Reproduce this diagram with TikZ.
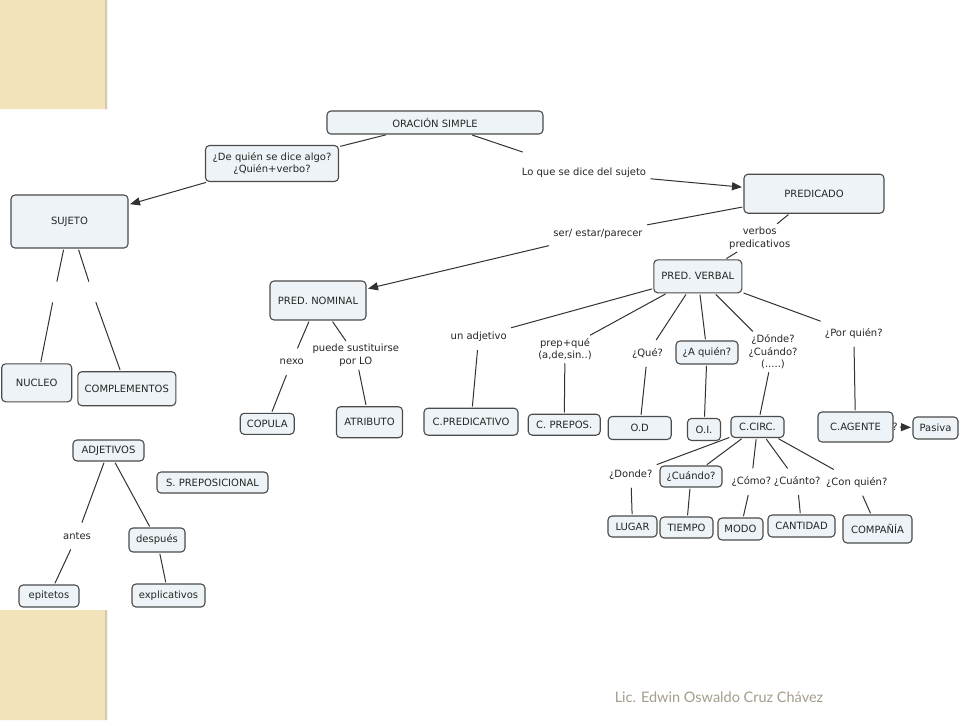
\documentclass[tikz,border=0pt]{standalone}
\usepackage{fontspec}
\setmainfont{DejaVu Sans}
\newfontfamily\firma{Lato}
\usetikzlibrary{arrows.meta}
\definecolor{caja}{RGB}{237,243,246}
\definecolor{borde}{RGB}{75,75,75}
\definecolor{linea}{RGB}{50,50,50}
\definecolor{beige}{RGB}{243,227,186}
\definecolor{gris}{RGB}{165,157,138}
\begin{document}
\begin{tikzpicture}[x=1pt,y=-1pt,font=\fontsize{10}{12.5}\selectfont,text=black!85,line join=round,line cap=round,>={Triangle[length=10pt,width=8pt]},
  concepto/.style 2 args={draw=borde,fill=caja,rounded corners=4pt,line width=1.1pt,inner sep=0pt,align=center,minimum width=#1pt,minimum height=#2pt},
  enlace/.style={inner xsep=3pt,inner ysep=2pt,minimum height=24pt,align=center},
  con/.style={draw=linea,line width=1pt,shorten <=1.5pt,shorten >=1.5pt}]
\useasboundingbox (0,0) rectangle (960,720);
\fill[white] (0,0) rectangle (960,720);
% esquinas
\fill[beige] (0,0) rectangle (107,109) (0,610) rectangle (107,720);
\fill[beige!75!gray] (105,0) rectangle (107,109) (105,610) rectangle (107,720);
% conceptos
\node[concepto={216}{23}] (orac) at (435,122.5) {ORACIÓN SIMPLE};
\node[concepto={133}{36}] (q1) at (272,163.5) {¿De quién se dice algo?\\¿Quién+verbo?};
\node[concepto={117}{53}] (suj) at (69.5,221.5) {SUJETO};
\node[concepto={140}{39}] (pred) at (814,193.7) {PREDICADO};
\node[concepto={88}{33}] (pverb) at (697.8,276.3) {PRED. VERBAL};
\node[concepto={96}{39}] (pnom) at (318,300.5) {PRED. NOMINAL};
\node[concepto={70}{38}] (nuc) at (36.7,382.8) {NUCLEO};
\node[concepto={98}{34}] (comp) at (126.8,388.7) {COMPLEMENTOS};
\node[concepto={54}{21}] (copula) at (267.2,423.8) {COPULA};
\node[concepto={66}{31}] (atrib) at (369.5,422.2) {ATRIBUTO};
\node[concepto={94}{27}] (cpredic) at (471,421.7) {C.PREDICATIVO};
\node[concepto={72}{21}] (cprep) at (564.2,424.7) {C. PREPOS.};
\node[concepto={63}{23}] (od) at (639.7,428) {O.D};
\node[concepto={62}{23}] (aq) at (707,352.5) {¿A quién?};
\node[concepto={33}{22}] (oi) at (704,429.5) {O.I.};
\node[concepto={53}{21}] (ccirc) at (757.5,427) {C.CIRC.};
\node[enlace,minimum height=0pt,inner sep=1pt] (qm) at (895,427) {?};
\node[concepto={75}{30}] (cag) at (855.5,427) {C.AGENTE};
\node[concepto={45}{22}] (pas) at (935.5,428) {Pasiva};
\node[concepto={62}{21}] (cuando) at (691,476.5) {¿Cuándo?};
\node[concepto={49}{21}] (lugar) at (632.5,526.5) {LUGAR};
\node[concepto={53}{21}] (tiempo) at (686.5,527.5) {TIEMPO};
\node[concepto={45}{22}] (modo) at (740.5,529) {MODO};
\node[concepto={67}{22}] (cant) at (801.5,526) {CANTIDAD};
\node[concepto={69}{28}] (compa) at (877.5,529) {COMPAÑÍA};
\node[concepto={71}{21}] (adj) at (108.5,450.5) {ADJETIVOS};
\node[concepto={111}{21}] (sprep) at (212.5,482.5) {S. PREPOSICIONAL};
\node[concepto={56}{24}] (despues) at (157,540) {después};
\node[concepto={60}{22}] (epit) at (49,596) {epitetos};
\node[concepto={73}{23}] (expl) at (168.5,595.5) {explicativos};
% enlaces
\node[enlace,minimum height=40pt] (lo) at (584,172.7) {Lo que se dice del sujeto};
\node[enlace] (ser) at (598,234) {ser/ estar/parecer};
\node[enlace] (vp) at (759.7,238) {verbos\\predicativos};
\node[enlace,minimum height=18pt,minimum width=4pt] (s1) at (54.7,292) {};
\node[enlace,minimum height=18pt,minimum width=4pt] (s2) at (92.2,292) {};
\node[enlace] (nexo) at (291.7,361.7) {nexo};
\node[enlace] (ps) at (355.8,355.3) {puede sustituirse\\por LO};
\node[enlace] (ua) at (478.7,336.7) {un adjetivo};
\node[enlace] (pq) at (565,349) {prep+qué\\(a,de,sin..)};
\node[enlace] (que) at (647.5,353.3) {¿Qué?};
\node[enlace] (dc) at (773,351.7) {¿Dónde?\\¿Cuándo?\\(.....)};
\node[enlace] (pq2) at (853.8,333.3) {¿Por quién?};
\node[enlace] (donde) at (630.8,474.3) {¿Donde?};
\node[enlace] (como) at (751.3,481.7) {¿Cómo?};
\node[enlace] (cuanto) at (797.2,481.7) {¿Cuánto?};
\node[enlace] (conq) at (856.7,482.3) {¿Con quién?};
\node[enlace] (antes) at (77,536) {antes};
% conectores
\draw[con] (orac) -- (q1);
\draw[con,->] (q1) -- (suj);
\draw[con] (orac) -- (lo);
\draw[con,->] (lo) -- (pred);
\draw[con] (pred) -- (ser);
\draw[con,->] (ser) -- (pnom);
\draw[con] (pred) -- (vp);
\draw[con] (vp) -- (pverb);
\draw[con] (suj) -- (s1);
\draw[con] (s1) -- (nuc);
\draw[con] (suj) -- (s2);
\draw[con] (s2) -- (comp);
\draw[con] (pnom) -- (nexo);
\draw[con] (nexo) -- (copula);
\draw[con] (pnom) -- (ps);
\draw[con] (ps) -- (atrib);
\draw[con] (pverb) -- (ua);
\draw[con] (ua) -- (cpredic);
\draw[con] (pverb) -- (pq);
\draw[con] (pq) -- (cprep);
\draw[con] (pverb) -- (que);
\draw[con] (que) -- (od);
\draw[con] (pverb) -- (aq);
\draw[con] (aq) -- (oi);
\draw[con] (pverb) -- (dc);
\draw[con] (dc) -- (ccirc);
\draw[con] (pverb) -- (pq2);
\draw[con] (pq2) -- (cag);
\draw[con,->] (qm) -- (pas);
\draw[con] (ccirc) -- (donde);
\draw[con] (donde) -- (lugar);
\draw[con] (ccirc) -- (cuando);
\draw[con] (cuando) -- (tiempo);
\draw[con] (ccirc) -- (como);
\draw[con] (como) -- (modo);
\draw[con] (ccirc) -- (cuanto);
\draw[con] (cuanto) -- (cant);
\draw[con] (ccirc) -- (conq);
\draw[con] (conq) -- (compa);
\draw[con] (adj) -- (antes);
\draw[con] (antes) -- (epit);
\draw[con] (adj) -- (despues);
\draw[con] (despues) -- (expl);
% firma
\node[font=\firma\fontsize{14.5}{16}\selectfont,text=gris] (firma) at (719,697) {Lic. Edwin Oswaldo Cruz Chávez};
\end{tikzpicture}
\end{document}
